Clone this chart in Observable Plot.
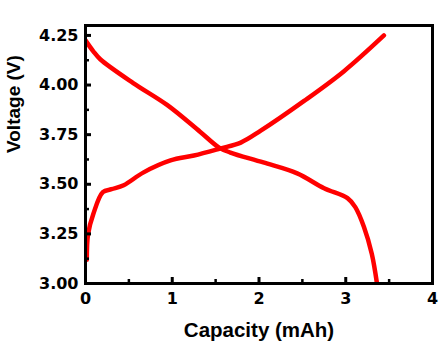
<!DOCTYPE html>
<html>
<head>
<meta charset="utf-8">
<script src="https://cdn.jsdelivr.net/npm/d3@7"></script>
<script src="https://cdn.jsdelivr.net/npm/@observablehq/plot@0.6"></script>
<style>
  html, body { margin: 0; padding: 0; background: #fff; }
</style>
</head>
<body>
<div id="chart"></div>
<script>
// Charge curve (rising)
const chargeCapacity = [0.015, 0.03, 0.09, 0.2, 0.3, 0.44, 0.67, 0.98, 1.25, 1.55, 1.79, 2.02, 2.52, 2.98, 3.44];
const chargeVoltage  = [3.12, 3.25, 3.35, 3.46, 3.475, 3.495, 3.56, 3.62, 3.645, 3.68, 3.71, 3.77, 3.92, 4.07, 4.25];
// Discharge curve (falling)
const dischargeCapacity = [0.0, 0.09, 0.17, 0.55, 0.94, 1.32, 1.54, 1.67, 2.05, 2.44, 2.75, 3.02, 3.11, 3.21, 3.30, 3.36];
const dischargeVoltage  = [4.225, 4.17, 4.13, 4.01, 3.90, 3.765, 3.685, 3.66, 3.61, 3.555, 3.48, 3.43, 3.385, 3.285, 3.15, 3.0];

const xTicks = [0, 1, 2, 3, 4];
const xMinorTicks = [0.5, 1.5, 2.5, 3.5];
const yTicks = [3.00, 3.25, 3.50, 3.75, 4.00, 4.25];
const yMinorTicks = [3.125, 3.375, 3.625, 3.875, 4.125];
const xTitle = "Capacity (mAh)";
const yTitle = "Voltage (V)";

const charge = chargeCapacity.map((c, i) => ({capacity: c, voltage: chargeVoltage[i]}));
const discharge = dischargeCapacity.map((c, i) => ({capacity: c, voltage: dischargeVoltage[i]}));

const W = 445, H = 361, ML = 85, MR = 13, MT = 25, MB = 78;
const plotW = W - ML - MR, plotH = H - MT - MB;
const tickFont = {fontFamily: "DejaVu Sans", fontWeight: "bold", fontSize: 16, fill: "#000"};

const chart = Plot.plot({
  width: W,
  height: H,
  marginLeft: ML,
  marginRight: MR,
  marginTop: MT,
  marginBottom: MB,
  style: {fontFamily: "DejaVu Sans", background: "#fff", color: "#000"},
  x: {domain: [0, 4]},
  y: {domain: [3.0, 4.30]},
  marks: [
    Plot.line(charge, {x: "capacity", y: "voltage", stroke: "#ff0000", strokeWidth: 4.5, curve: "catmull-rom", strokeLinecap: "round", clip: true}),
    Plot.line(discharge, {x: "capacity", y: "voltage", stroke: "#ff0000", strokeWidth: 4.5, curve: "catmull-rom", strokeLinecap: "round", clip: true}),
    // inward major / minor ticks
    Plot.tickX(xTicks, {x: d => d, insetTop: plotH - 6, stroke: "#000", strokeWidth: 3}),
    Plot.tickX(xMinorTicks, {x: d => d, insetTop: plotH - 4, stroke: "#000", strokeWidth: 2.5}),
    Plot.tickY(yTicks, {y: d => d, insetRight: plotW - 6, stroke: "#000", strokeWidth: 3}),
    Plot.tickY(yMinorTicks, {y: d => d, insetRight: plotW - 4, stroke: "#000", strokeWidth: 2.5}),
    Plot.axisX(xTicks, {tickSize: 0, tickPadding: 9, label: null, tickFormat: d3.format("d"), ...tickFont}),
    Plot.axisY(yTicks, {tickSize: 0, tickPadding: 7, label: null, tickFormat: d3.format(".2f"), ...tickFont}),
    Plot.frame({stroke: "#000", strokeWidth: 3}),
    Plot.text([xTitle], {text: d => d, frameAnchor: "bottom", dy: 53, fontFamily: "Liberation Sans", fontWeight: "bold", fontSize: 20.5, fill: "#000"}),
    Plot.text([yTitle], {text: d => d, frameAnchor: "left", rotate: -90, dx: -72, dy: -1.5, fontFamily: "Liberation Sans", fontWeight: "bold", fontSize: 19, fill: "#000"})
  ]
});
document.getElementById("chart").appendChild(chart);
</script>
</body>
</html>
